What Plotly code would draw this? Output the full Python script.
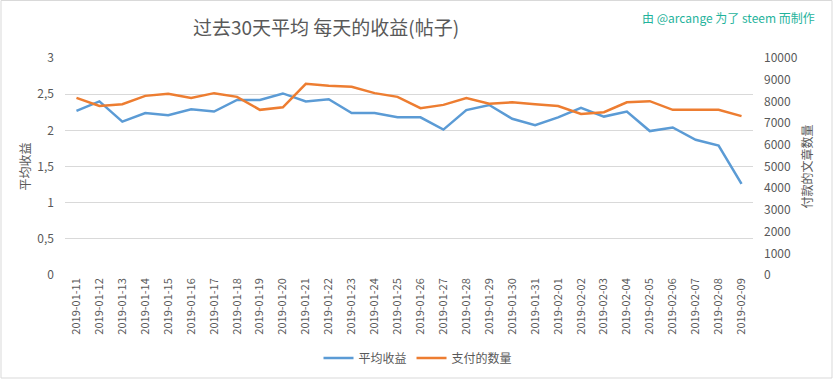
import plotly.graph_objects as go

dates = ["2019-01-11", "2019-01-12", "2019-01-13", "2019-01-14", "2019-01-15",
         "2019-01-16", "2019-01-17", "2019-01-18", "2019-01-19", "2019-01-20",
         "2019-01-21", "2019-01-22", "2019-01-23", "2019-01-24", "2019-01-25",
         "2019-01-26", "2019-01-27", "2019-01-28", "2019-01-29", "2019-01-30",
         "2019-01-31", "2019-02-01", "2019-02-02", "2019-02-03", "2019-02-04",
         "2019-02-05", "2019-02-06", "2019-02-07", "2019-02-08", "2019-02-09"]

avg_income = [2.27, 2.40, 2.12, 2.24, 2.21, 2.29, 2.26, 2.42, 2.42, 2.51,
              2.40, 2.43, 2.24, 2.24, 2.18, 2.18, 2.01, 2.28, 2.35, 2.16,
              2.07, 2.18, 2.31, 2.19, 2.26, 1.99, 2.04, 1.87, 1.79, 1.26]

paid_count = [8160, 7790, 7870, 8255, 8350, 8160, 8380, 8210, 7610, 7730,
              8810, 8720, 8670, 8380, 8210, 7690, 7840, 8150, 7890, 7960,
              7870, 7790, 7420, 7500, 7960, 8010, 7610, 7610, 7610, 7320]

left_tickvals = [0, 0.5, 1, 1.5, 2, 2.5, 3]
left_ticktext = ["0", "0,5", "1", "1,5", "2", "2,5", "3"]
right_tickvals = [0, 1000, 2000, 3000, 4000, 5000, 6000, 7000, 8000, 9000, 10000]
right_ticktext = [str(v) for v in right_tickvals]

FONT = "Noto Sans CJK SC"
GREY = "#595959"

fig = go.Figure()
fig.add_trace(go.Scatter(x=dates, y=avg_income, name="平均收益", mode="lines",
                         line=dict(color="#5b9bd5", width=2.5), yaxis="y"))
fig.add_trace(go.Scatter(x=dates, y=paid_count, name="支付的数量", mode="lines",
                         line=dict(color="#ed7d31", width=2.5), yaxis="y2"))

W, H = 833, 379
L, R, T, B = 65, 80, 58, 104
pw, ph = W - L - R, H - T - B

fig.update_layout(
    width=W, height=H,
    margin=dict(l=L, r=R, t=T, b=B, pad=0),
    paper_bgcolor="white", plot_bgcolor="white",
    font=dict(family=FONT, size=11, color=GREY),
    title=dict(text="过去30天平均 每天的收益(帖子)", x=326 / W, xref="container",
               xanchor="center", y=1 - 28 / H, yref="container", yanchor="middle",
               font=dict(size=19, color=GREY, family=FONT)),
    xaxis=dict(type="category", range=[-0.5, len(dates) - 0.5], tickangle=-90,
               showgrid=False, zeroline=False, showline=False, ticks="",
               tickfont=dict(size=11, color=GREY), automargin=False),
    yaxis=dict(range=[0, 3], tickvals=left_tickvals, ticktext=left_ticktext,
               showgrid=True, gridcolor="#d9d9d9", gridwidth=1, zeroline=False,
               showline=False, ticks="", ticklabelstandoff=10,
               tickfont=dict(size=12, color=GREY), automargin=False,
               title=dict(text="平均收益", font=dict(size=12, color=GREY), standoff=4)),
    yaxis2=dict(range=[0, 10000], tickvals=right_tickvals, ticktext=right_ticktext,
                overlaying="y", side="right", showgrid=False, zeroline=False,
                showline=False, ticks="", ticklabelstandoff=10,
                tickfont=dict(size=12, color=GREY), automargin=False,
                title=dict(text="付款的文章数量", font=dict(size=12, color=GREY), standoff=6)),
    legend=dict(orientation="h", xref="container", yref="container",
                x=418 / W, xanchor="center", y=1 - 358 / H, yanchor="middle",
                font=dict(size=12, color=GREY), itemwidth=30),
    annotations=[dict(text="由 @arcange 为了 steem 而制作", xref="paper", yref="paper",
                      x=(728 - L) / pw, y=(H - B - 18) / ph, xanchor="center",
                      yanchor="middle", showarrow=False,
                      font=dict(size=12, color="#1fb39c", family=FONT))],
    shapes=[dict(type="rect", xref="paper", yref="paper",
                 x0=(1 - L) / pw, x1=(832 - L) / pw,
                 y0=(H - B - 378) / ph, y1=(H - B - 0.5) / ph,
                 line=dict(color="#d9d9d9", width=1), fillcolor="rgba(0,0,0,0)",
                 layer="below")],
)

fig.write_html("out.html", config={"displayModeBar": False},
               post_script="document.body.style.margin='0';document.body.style.padding='0';")
